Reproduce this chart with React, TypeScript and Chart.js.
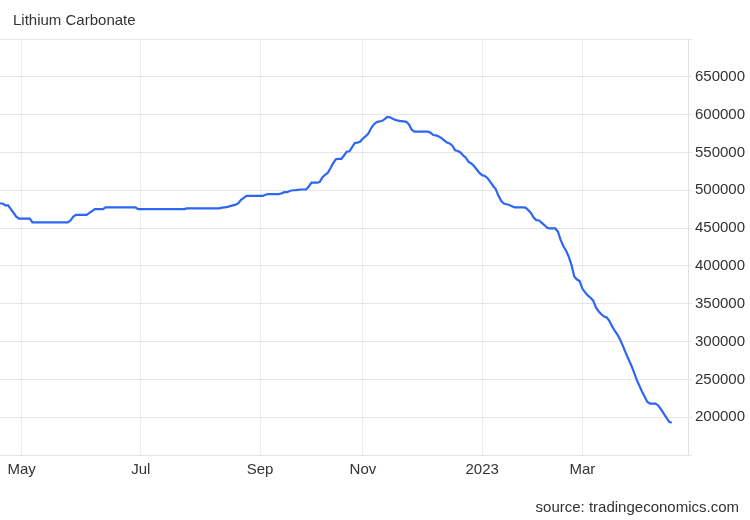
import React, { useEffect, useRef } from "react";
import { Chart, registerables } from "chart.js";

Chart.register(...registerables);

const title = "Lithium Carbonate";
const sourceText = "source: tradingeconomics.com";

// trading calendar (weekdays, exchange holidays removed)
const firstDate = "2022-04-20";
const axisEndDate = "2023-04-25";
const holidays = [
  "2022-10-03", "2022-10-04", "2022-10-05", "2022-10-06", "2022-10-07",
  "2023-01-23", "2023-01-24", "2023-01-25", "2023-01-26", "2023-01-27",
];

// daily price, CNY/T
const prices = [
  482500, 482500, 480000, 480000, 475000, 470000, 465000, 462500, 462500, 462500,
  462500, 462500, 457500, 457500, 457500, 457500, 457500, 457500, 457500, 457500,
  457500, 457500, 457500, 457500, 457500, 457500, 460000, 465000, 467500, 467500,
  467500, 467500, 467500, 470000, 472500, 475000, 475000, 475000, 475000, 477500,
  477500, 477500, 477500, 477500, 477500, 477500, 477500, 477500, 477500, 477500,
  477500, 475000, 475000, 475000, 475000, 475000, 475000, 475000, 475000, 475000,
  475000, 475000, 475000, 475000, 475000, 475000, 475000, 475000, 475000, 476000,
  476000, 476000, 476000, 476000, 476000, 476000, 476000, 476000, 476000, 476000,
  476000, 476000, 477000, 477500, 478000, 479000, 480000, 481000, 483000, 487500,
  490000, 492500, 492500, 492500, 492500, 492500, 492500, 492500, 494000, 495000,
  495000, 495000, 495000, 495000, 496000, 497500, 497500, 499000, 500000, 500000,
  500500, 501000, 501000, 501000, 505000, 510000, 510000, 510000, 511000, 517000,
  520500, 523000, 529000, 536000, 541000, 541500, 541500, 546000, 551000, 551500,
  557000, 562500, 563000, 564500, 568500, 571500, 575000, 582000, 587000, 590000,
  591000, 591500, 594000, 597000, 596500, 594500, 593000, 592000, 591500, 591000,
  590500, 587000, 580000, 577500, 577500, 577500, 577500, 577500, 577500, 576000,
  573000, 572500, 571000, 569000, 566000, 563000, 562000, 559000, 553000, 552000,
  550000, 546000, 543000, 537500, 535500, 532000, 527500, 523000, 520000, 519000,
  516000, 511000, 506000, 501500, 493000, 486000, 482500, 481500, 480500, 479000,
  477500, 477500, 477500, 477500, 477000, 474000, 470000, 464000, 460500, 460000,
  457000, 454000, 450500, 449500, 449500, 449500, 445000, 434000, 426000, 420000,
  412000, 401000, 386000, 382000, 380000, 370000, 365000, 361000, 358000, 354000,
  345000, 340000, 336000, 333000, 332000, 327000, 320000, 314000, 309000, 302000,
  294000, 285000, 277000, 269000, 260000, 250000, 242000, 234000, 227000, 220000,
  218000, 218000, 218000, 215500, 210500, 205000, 199500, 194000, 192500,
];

const monthTickDates = ["2022-05-02", "2022-07-01", "2022-09-01", "2022-11-01", "2023-01-02", "2023-03-01"];
const monthTickLabels = ["May", "Jul", "Sep", "Nov", "2023", "Mar"];

const yMin = 150000;
const yMax = 700000;
const yStep = 50000;

function buildCalendar(start: string, end: string, skip: string[]): string[] {
  const out: string[] = [];
  const d = new Date(start + "T00:00:00Z");
  const last = new Date(end + "T00:00:00Z");
  while (d.getTime() <= last.getTime()) {
    const dow = d.getUTCDay();
    const iso = d.toISOString().slice(0, 10);
    if (dow !== 0 && dow !== 6 && !skip.includes(iso)) out.push(iso);
    d.setUTCDate(d.getUTCDate() + 1);
  }
  return out;
}

const FONT = "'Liberation Sans', Arial, Helvetica, sans-serif";
const TEXT = "#333333";

export default function App() {
  const ref = useRef<HTMLCanvasElement | null>(null);

  useEffect(() => {
    document.body.style.margin = "0";
    const canvas = ref.current;
    if (!canvas) return;
    const calendar = buildCalendar(firstDate, axisEndDate, holidays);
    const tickIdx = monthTickDates.map((d) => calendar.indexOf(d));
    const points = prices.map((v, i) => ({ x: i, y: v }));

    const textPlugin = {
      id: "texts",
      afterDraw(chart: any) {
        const ctx = chart.ctx;
        ctx.save();
        ctx.fillStyle = TEXT;
        ctx.font = `15px ${FONT}`;
        ctx.textBaseline = "alphabetic";
        ctx.textAlign = "left";
        ctx.fillText(title, 13, 25);
        ctx.textAlign = "right";
        ctx.fillText(sourceText, 739, 512);
        ctx.restore();
      },
    };

    const chart = new Chart(canvas, {
      type: "line",
      data: {
        datasets: [
          {
            data: points,
            borderColor: "#2c66f3",
            borderWidth: 2.2,
            pointRadius: 0,
            tension: 0,
            fill: false,
          },
        ],
      },
      options: {
        animation: false,
        responsive: false,
        maintainAspectRatio: false,
        layout: { padding: { top: 39, left: 0, right: 0, bottom: 0 } },
        plugins: {
          legend: { display: false },
          tooltip: { enabled: false },
          title: { display: false },
        },
        scales: {
          x: {
            type: "linear",
            min: 0,
            max: calendar.length - 1,
            afterBuildTicks: (scale: any) => {
              scale.ticks = tickIdx.map((v) => ({ value: v }));
            },
            afterFit: (scale: any) => {
              scale.height = 65;
            },
            grid: {
              color: "#e8eef5",
              lineWidth: 1,
              drawTicks: false,
            },
            border: { display: true, color: "#e2e2e2" },
            ticks: {
              autoSkip: false,
              maxRotation: 0,
              padding: 6,
              color: TEXT,
              font: { family: FONT, size: 15 },
              callback: (value: any) => {
                const k = tickIdx.indexOf(Number(value));
                return k >= 0 ? monthTickLabels[k] : null;
              },
            },
          },
          y: {
            position: "right",
            min: yMin,
            max: yMax,
            afterFit: (scale: any) => {
              scale.width = 62;
            },
            grid: {
              color: "#e6e6e6",
              lineWidth: 1,
              drawTicks: true,
              tickLength: 4,
            },
            border: { display: true, color: "#e2e2e2" },
            ticks: {
              stepSize: yStep,
              padding: 3,
              color: TEXT,
              font: { family: FONT, size: 15 },
              callback: (value: any) => {
                const v = Number(value);
                if (v === yMin || v === yMax) return "";
                return String(v);
              },
            },
          },
        },
      },
      plugins: [textPlugin],
    } as any);

    return () => chart.destroy();
  }, []);

  return (
    <div style={{ width: 750, height: 520 }}>
      <canvas ref={ref} width={750} height={520} style={{ display: "block" }} />
    </div>
  );
}
